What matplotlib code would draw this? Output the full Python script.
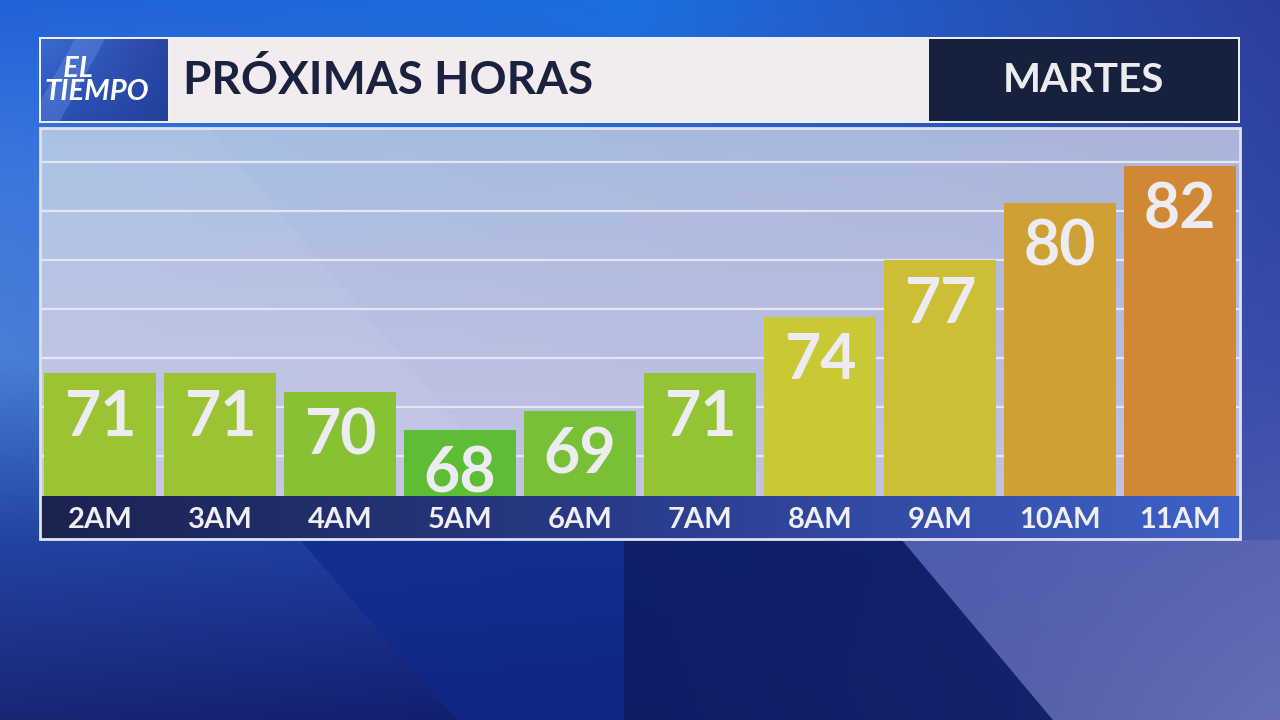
import matplotlib.pyplot as plt
import numpy as np
from matplotlib.patches import Rectangle, Polygon
from matplotlib.colors import to_rgb

horas = ['2AM', '3AM', '4AM', '5AM', '6AM', '7AM', '8AM', '9AM', '10AM', '11AM']
temps = [71, 71, 70, 68, 69, 71, 74, 77, 80, 82]
colores = ['#9ac433', '#9ac433', '#86c234', '#5dbd35', '#78c035',
           '#94c433', '#c8c934', '#ccbf35', '#cfa034', '#d08834']
titulo = 'PRÓXIMAS HORAS'
dia = 'MARTES'
logo = '   EL\nTIEMPO'

W, H = 1280, 720
fig = plt.figure(figsize=(12.8, 7.2), dpi=100)


def px(x0, y0, x1, y1):
    # pixel box (origin top-left) -> figure rect
    return [x0 / W, 1 - y1 / H, (x1 - x0) / W, (y1 - y0) / H]


def grad(rows, n=120):
    # rows: list of lists of colours, bilinear over a control grid
    c = np.array([[to_rgb(k) for k in r] for r in rows])
    ny, nx = c.shape[:2]
    ys = np.linspace(0, ny - 1, n)
    xs = np.linspace(0, nx - 1, n)
    tmp = np.stack([[np.interp(xs, np.arange(nx), c[j, :, k]) for k in range(3)]
                    for j in range(ny)])          # ny, 3, n
    out = np.stack([[np.interp(ys, np.arange(ny), tmp[:, k, i]) for i in range(n)]
                    for k in range(3)], axis=-1)  # n(x), n(y), 3
    return out.transpose(1, 0, 2)


# background
bg = fig.add_axes([0, 0, 1, 1], zorder=0)
bg.imshow(grad([['#2262d8', '#1c6ee0', '#2c3e9c'],
                ['#3c78dc', '#3064cc', '#3046a4'],
                ['#4a7ed8', '#3560c0', '#3a4caa'],
                ['#2244a4', '#1a3a9e', '#4a58ae'],
                ['#1a2674', '#101c6c', '#6a70b8']]),
          extent=[0, W, H, 0], aspect='auto', interpolation='bicubic')
bg.add_patch(Polygon([[300, 540], [624, 540], [624, 720], [457, 720]], color='#0e2a8c', alpha=0.75, lw=0))
bg.add_patch(Polygon([[624, 540], [902, 540], [1053, 720], [624, 720]], color='#0f1c66', alpha=0.9, lw=0))
bg.add_patch(Polygon([[902, 540], [1280, 540], [1280, 720], [1053, 720]], color='#646cb6', alpha=0.6, lw=0))
bg.set_xlim(0, W)
bg.set_ylim(H, 0)
bg.axis('off')

# chart panel
ax = fig.add_axes(px(40, 128, 1240, 496), zorder=2)
x = np.arange(len(horas))
ax.set_xlim(-0.5, len(horas) - 0.5)
ax.set_ylim(64.5, 84)
ax.imshow(grad([['#a6bfe4', '#aab4da'], ['#c6c4e4', '#c2c0e2']]),
          extent=[-0.5, len(horas) - 0.5, 64.5, 84], aspect='auto',
          interpolation='bicubic', zorder=0)
ax.add_patch(Polygon([[-0.5, 84], [0.9, 84], [3.5, 64.5], [-0.5, 64.5]],
                     color='white', alpha=0.06, lw=0, zorder=0))
for gy in [66.6, 69.2, 71.8, 74.4, 77.0, 79.6, 82.2]:
    ax.axhline(gy, color='#e4e6f4', lw=1.6, zorder=1)
ax.bar(x, np.array(temps) - 64.5, bottom=64.5, width=0.94, color=colores, zorder=2)
for xi, t in zip(x, temps):
    ax.annotate(str(t), (xi, t), xytext=(0, -45), textcoords='offset points',
                ha='center', va='baseline', fontsize=45, fontweight='bold',
                family='Lato', color='#ececf2', zorder=3)
ax.axis('off')

# hour labels strip
st = fig.add_axes(px(40, 496, 1240, 538), zorder=2)
st.imshow(grad([['#1b2350', '#2a3c8c', '#3f62c8']]),
          extent=[-0.5, len(horas) - 0.5, 0, 1], aspect='auto', interpolation='bicubic')
st.set_xlim(-0.5, len(horas) - 0.5)
st.set_ylim(0, 1)
for xi, h in zip(x, horas):
    st.text(xi, 0.42, h, ha='center', va='center', fontsize=21, fontweight='bold',
            family='Lato', color='#eeeef3')
st.axis('off')

# overlay: frame and header
ov = fig.add_axes([0, 0, 1, 1], zorder=5)
ov.patch.set_alpha(0)
ov.set_xlim(0, W)
ov.set_ylim(H, 0)
ov.add_patch(Rectangle((40, 128), 1200, 411, fill=False, ec='#e2e2ee', lw=2))
ov.add_patch(Rectangle((39, 37), 1201, 86, fc='#eef0f8', ec='none', zorder=1))
ov.imshow(grad([['#3a6ad0', '#2a46a6'], ['#2a52b8', '#23409c']], 40),
          extent=[41, 168, 121, 39], aspect='auto', interpolation='bicubic', zorder=2)
ov.add_patch(Polygon([[75, 39], [105, 39], [60, 121], [41, 121], [41, 100]],
                     color='#7aa2ec', alpha=0.3, lw=0, zorder=3))
ov.add_patch(Rectangle((171, 39), 755, 82, fc='#f2ecef', ec='none', zorder=2))
ov.add_patch(Rectangle((929, 39), 309, 82, fc='#16213d', ec='none', zorder=2))
ov.text(44, 100, logo, ha='left', va='baseline', fontsize=21, fontweight='bold',
        style='italic', family='Lato', color='white', linespacing=0.88, zorder=4)
ov.text(183, 80, titulo, ha='left', va='center', fontsize=33, fontweight='bold',
        family='Lato', color='#1a2240', zorder=4)
ov.text(1083, 80, dia, ha='center', va='center', fontsize=29, fontweight='bold',
        family='Lato', color='#ececf0', zorder=4)
ov.axis('off')

fig.savefig('out.png', dpi=100)
